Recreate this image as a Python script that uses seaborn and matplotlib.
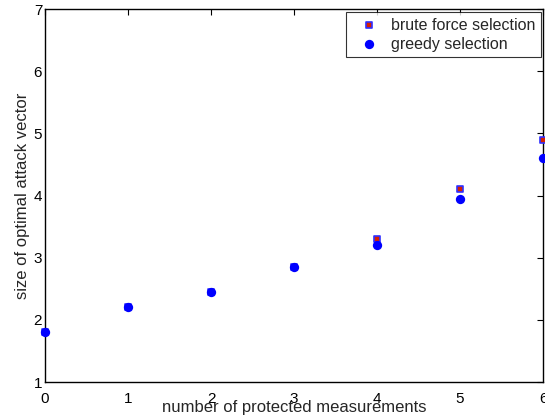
import matplotlib
matplotlib.use("Agg")
import matplotlib.pyplot as plt
import seaborn as sns
import pandas as pd

protected = [0, 1, 2, 3, 4, 5, 6]
brute_force = [1.8, 2.2, 2.45, 2.85, 3.3, 4.1, 4.9]
greedy = [1.8, 2.2, 2.45, 2.85, 3.2, 3.95, 4.6]
x_ticks = [0, 1, 2, 3, 4, 5, 6]
y_ticks = [1, 2, 3, 4, 5, 6, 7]

sns.set_style("white")
plt.rcParams['font.family'] = ['Liberation Sans', 'DejaVu Sans']

fig = plt.figure(figsize=(5.45, 4.19), dpi=100)
ax = fig.add_axes([45/545, 1 - 382/419, (543-45)/545, (382-9)/419])

df_b = pd.DataFrame({"x": protected, "y": brute_force})
df_g = pd.DataFrame({"x": protected, "y": greedy})

sns.scatterplot(data=df_b, x="x", y="y", ax=ax, marker="s", s=22,
                color="#d62000", edgecolor="#3030ff", linewidth=1.2,
                label="brute force selection", clip_on=False, zorder=3)
sns.scatterplot(data=df_g, x="x", y="y", ax=ax, marker="o", s=45,
                color="#0000ff", edgecolor="#0000ff", linewidth=0,
                label="greedy selection", clip_on=False, zorder=4)

ax.set_xlim(0, 6)
ax.set_ylim(1, 7)
ax.set_xticks(x_ticks)
ax.set_yticks(y_ticks)
ax.tick_params(direction="in", length=4, width=0.8, top=True, right=True,
               labelsize=11, pad=2, colors="black")
ax.tick_params(axis="x", pad=7)
for s in ax.spines.values():
    s.set_linewidth(1.0)
    s.set_color("black")
ax.set_xlabel("number of protected measurements", fontsize=12, labelpad=-4)
ax.set_ylabel("size of optimal attack vector", fontsize=12, labelpad=3)

leg = ax.legend(loc="upper right", bbox_to_anchor=(0.996, 0.992), fontsize=11.5,
                frameon=True, fancybox=False, edgecolor="black", borderpad=0.35,
                handletextpad=0.3, labelspacing=0.25, handlelength=2.2,
                borderaxespad=0)
leg.get_frame().set_linewidth(0.8)

fig.savefig("out.png", dpi=100)
